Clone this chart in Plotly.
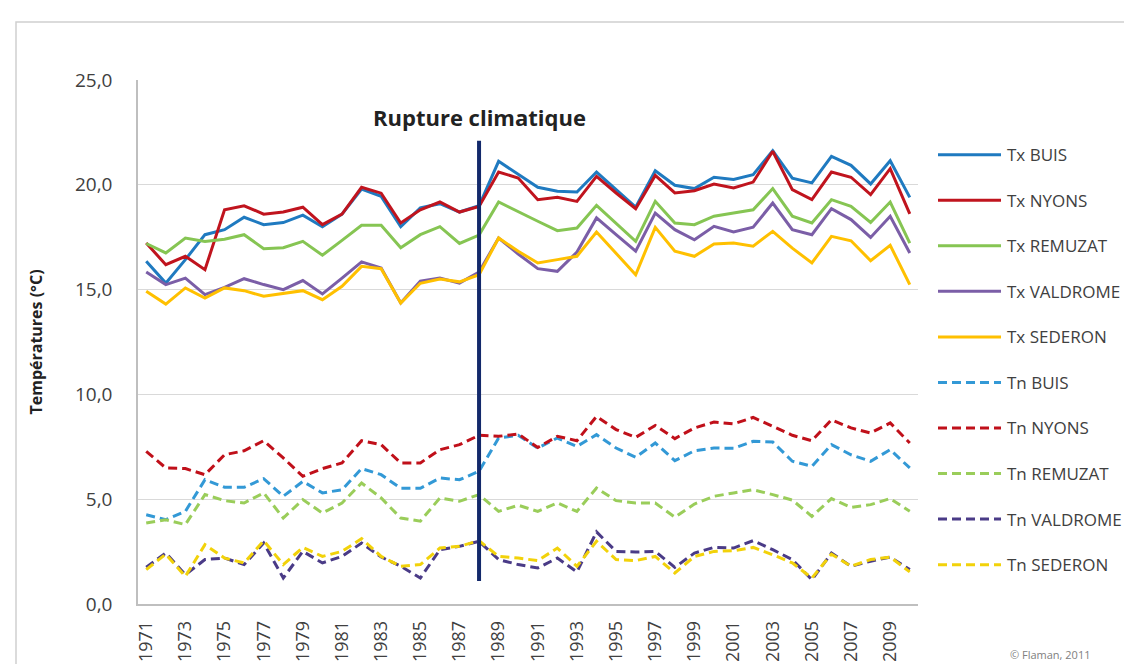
import plotly.graph_objects as go

years = list(range(1971, 2011))

tx_buis = [16.35, 15.31, 16.43, 17.62, 17.86, 18.45, 18.1, 18.2, 18.55, 18.0,
           18.6, 19.8, 19.45, 18.0, 18.9, 19.1, 18.7, 19.0, 21.12, 20.48,
           19.88, 19.69, 19.66, 20.61, 19.77, 18.93, 20.67, 19.98, 19.82, 20.36,
           20.25, 20.48, 21.63, 20.32, 20.09, 21.36, 20.93, 20.04, 21.15, 19.4]
tx_nyons = [17.22, 16.19, 16.59, 15.95, 18.81, 19.0, 18.6, 18.7, 18.93, 18.1,
            18.6, 19.88, 19.6, 18.18, 18.81, 19.18, 18.7, 18.97, 20.61, 20.32,
            19.29, 19.4, 19.21, 20.4, 19.61, 18.86, 20.45, 19.61, 19.72, 20.04,
            19.85, 20.13, 21.6, 19.77, 19.29, 20.61, 20.36, 19.53, 20.77, 18.61]
tx_remuzat = [17.2, 16.75, 17.46, 17.3, 17.4, 17.62, 16.95, 17.0, 17.3, 16.64,
              17.35, 18.07, 18.07, 17.0, 17.62, 18.0, 17.2, 17.6, 19.18, 18.7,
              18.26, 17.81, 17.94, 19.02, 18.18, 17.3, 19.21, 18.18, 18.1, 18.5,
              18.65, 18.81, 19.82, 18.5, 18.18, 19.29, 18.97, 18.2, 19.18, 17.22]
tx_valdrome = [15.84, 15.24, 15.55, 14.76, 15.11, 15.52, 15.24, 15.0, 15.43, 14.79,
               15.55, 16.32, 16.03, 14.36, 15.4, 15.55, 15.31, 15.84, 17.46, 16.7,
               16.0, 15.87, 16.79, 18.42, 17.62, 16.83, 18.65, 17.86, 17.38, 18.02,
               17.75, 17.98, 19.13, 17.86, 17.62, 18.86, 18.34, 17.49, 18.5, 16.75]
tx_sederon = [14.92, 14.31, 15.08, 14.6, 15.08, 14.95, 14.68, 14.8, 14.95, 14.52,
              15.16, 16.11, 16.0, 14.36, 15.3, 15.5, 15.37, 15.71, 17.46, 16.83,
              16.27, 16.43, 16.59, 17.75, 16.75, 15.71, 17.97, 16.83, 16.59, 17.18,
              17.22, 17.07, 17.78, 16.98, 16.27, 17.54, 17.33, 16.38, 17.11, 15.24]
tn_buis = [4.26, 4.02, 4.42, 5.93, 5.57, 5.57, 5.98, 5.14, 5.85, 5.3,
           5.45, 6.46, 6.17, 5.52, 5.52, 6.01, 5.93, 6.33, 7.92, 8.05,
           7.44, 7.92, 7.52, 8.08, 7.44, 7.0, 7.68, 6.84, 7.31, 7.44,
           7.43, 7.76, 7.73, 6.81, 6.57, 7.6, 7.12, 6.81, 7.36, 6.49]
tn_nyons = [7.28, 6.49, 6.46, 6.17, 7.12, 7.31, 7.79, 6.97, 6.09, 6.46,
            6.73, 7.79, 7.6, 6.73, 6.73, 7.36, 7.6, 8.05, 8.0, 8.11,
            7.47, 8.0, 7.79, 8.95, 8.32, 7.95, 8.52, 7.89, 8.4, 8.68,
            8.59, 8.9, 8.48, 8.05, 7.79, 8.79, 8.4, 8.16, 8.64, 7.68]
tn_remuzat = [3.86, 4.02, 3.79, 5.22, 4.93, 4.82, 5.3, 4.1, 4.98, 4.34,
              4.82, 5.77, 5.06, 4.1, 3.95, 5.06, 4.9, 5.22, 4.42, 4.71,
              4.42, 4.82, 4.42, 5.53, 4.93, 4.82, 4.82, 4.14, 4.77, 5.14,
              5.3, 5.45, 5.22, 4.96, 4.18, 5.03, 4.61, 4.74, 5.03, 4.42]
tn_valdrome = [1.75, 2.43, 1.4, 2.12, 2.19, 1.88, 2.91, 1.24, 2.51, 1.96,
               2.27, 2.91, 2.24, 1.8, 1.24, 2.59, 2.75, 2.99, 2.12, 1.88,
               1.72, 2.19, 1.53, 3.44, 2.51, 2.48, 2.51, 1.75, 2.43, 2.7,
               2.67, 3.02, 2.59, 2.12, 1.16, 2.43, 1.8, 2.04, 2.24, 1.64]
tn_sederon = [1.64, 2.38, 1.32, 2.83, 2.19, 1.96, 3.02, 1.88, 2.7, 2.27,
              2.51, 3.12, 2.27, 1.8, 1.88, 2.67, 2.75, 3.02, 2.27, 2.19,
              2.07, 2.67, 1.8, 2.99, 2.12, 2.07, 2.27, 1.48, 2.27, 2.51,
              2.54, 2.7, 2.35, 1.96, 1.24, 2.38, 1.8, 2.12, 2.24, 1.53]

series_names = ["Tx BUIS", "Tx NYONS", "Tx REMUZAT", "Tx VALDROME", "Tx SEDERON",
                "Tn BUIS", "Tn NYONS", "Tn REMUZAT", "Tn VALDROME", "Tn SEDERON"]
series_values = [tx_buis, tx_nyons, tx_remuzat, tx_valdrome, tx_sederon,
                 tn_buis, tn_nyons, tn_remuzat, tn_valdrome, tn_sederon]
series_colors = ["#1F7AC0", "#C0141E", "#86C553", "#7B5EA7", "#FFC000",
                 "#3399D6", "#C0101A", "#9ACD5A", "#4A3B87", "#F2D20A"]
series_dash = ["solid"] * 5 + ["9px,5px"] * 5

x_tick_vals = list(range(1971, 2010, 2))
x_tick_text = [str(y) for y in x_tick_vals]
y_tick_vals = [0, 5, 10, 15, 20, 25]
y_tick_text = ["0,0", "5,0", "10,0", "15,0", "20,0", "25,0"]

rupture_year = 1988
rupture_span = [1.1, 22.1]

FONT = "Open Sans, Lato, DejaVu Sans, sans-serif"

fig = go.Figure()
for name, vals, col, dash in zip(series_names, series_values, series_colors, series_dash):
    fig.add_trace(go.Scatter(x=years, y=vals, mode="lines", name=name,
                             line=dict(color=col, width=3, dash=dash),
                             showlegend=False))

# vertical "rupture" line
fig.add_shape(type="line", xref="x", yref="y", x0=rupture_year, x1=rupture_year,
              y0=rupture_span[0], y1=rupture_span[1],
              line=dict(color="#13296B", width=4))
fig.add_annotation(x=rupture_year, xref="x", y=0.929, yref="paper",
                   text="<b>Rupture climatique</b>", showarrow=False,
                   font=dict(family=FONT, size=22, color="#222222"),
                   xanchor="center", yanchor="middle")

# manual legend (right side)
L, R, T, B = 130, 222, 72, 68
W, H = 1132 - L - R, 664 - T - B
def px_x(px):
    return (px - L) / W
def px_y(py):
    return (664 - B - py) / H

for k, (name, col, dash) in enumerate(zip(series_names, series_colors, series_dash)):
    yy = px_y(146.7 + 45.55 * k)
    fig.add_shape(type="line", xref="paper", yref="paper",
                  x0=px_x(930), x1=px_x(993), y0=yy, y1=yy,
                  line=dict(color=col, width=3, dash=dash))
    fig.add_annotation(x=px_x(997), y=yy, xref="paper", yref="paper",
                       text=name, showarrow=False, xanchor="left", yanchor="middle",
                       font=dict(family=FONT, size=17, color="#404040"))

# outer border
fig.add_shape(type="rect", xref="paper", yref="paper",
              x0=px_x(8), x1=px_x(1128), y0=px_y(660), y1=px_y(14),
              line=dict(color="#D0D0D0", width=1.5), layer="below")

fig.add_annotation(x=px_x(1000), y=px_y(646), xref="paper", yref="paper",
                   text="© Flaman, 2011", showarrow=False, xanchor="left",
                   yanchor="middle", font=dict(family=FONT, size=11, color="#808080"))

fig.update_layout(
    width=1132, height=664,
    margin=dict(l=L, r=R, t=T, b=B),
    paper_bgcolor="white", plot_bgcolor="white",
    font=dict(family=FONT, color="#404040"),
    showlegend=False,
)
fig.update_xaxes(range=[1970.58, 2010.42], tickmode="array", tickvals=x_tick_vals,
                 ticktext=x_tick_text, tickangle=-90, showgrid=False, zeroline=False,
                 showline=True, linecolor="#BFBFBF", linewidth=1.5, ticks="",
                 ticklabelstandoff=8, automargin=False,
                 tickfont=dict(family=FONT, size=18, color="#404040"))
fig.update_yaxes(range=[0, 25], tickmode="array", tickvals=y_tick_vals,
                 ticktext=y_tick_text, showgrid=True, gridcolor="#D9D9D9",
                 zeroline=False, showline=True, linecolor="#BFBFBF", linewidth=1.5,
                 ticks="", ticklabelstandoff=20, automargin=False,
                 tickfont=dict(family=FONT, size=19, color="#404040"),
                 title=dict(text="Températures (°C)", standoff=28,
                            font=dict(family=FONT, size=16, color="#222222",
                                      weight="bold")))

fig.write_html("out.html")
